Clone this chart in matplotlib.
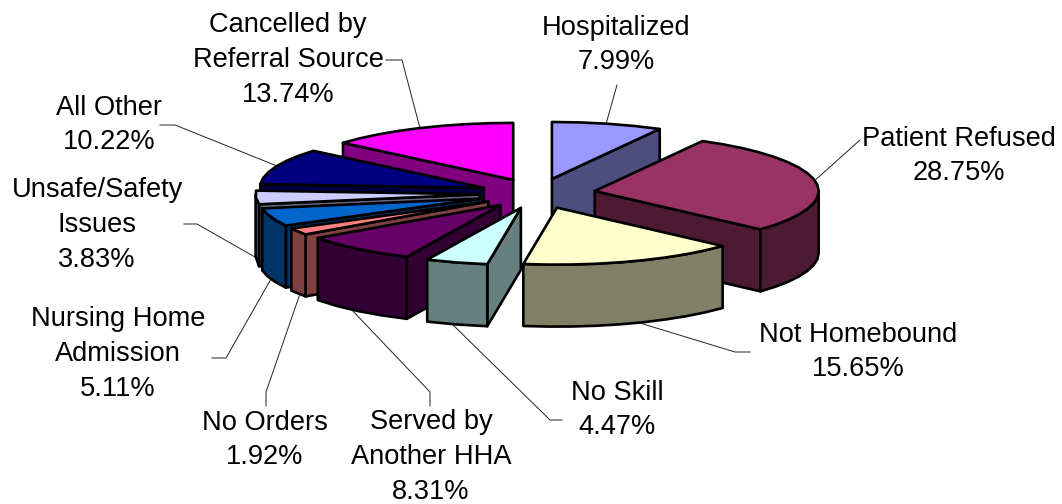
import numpy as np
import matplotlib
matplotlib.use('Agg')
import matplotlib.pyplot as plt

plt.rcParams['font.family'] = ['Liberation Sans', 'DejaVu Sans']

# slices clockwise from 12 o'clock
names = ['Hospitalized', 'Patient Refused', 'Not Homebound', 'No Skill',
         'Served by\nAnother HHA', 'No Orders', 'Nursing Home\nAdmission',
         'Unsafe/Safety\nIssues', 'All Other', 'Cancelled by\nReferral Source']
values = [7.99, 28.75, 15.65, 4.47, 8.31, 1.92, 5.11, 3.83, 10.22, 13.74]
top_colors = ['#9999FF', '#993366', '#FFFFCC', '#CCFFFF', '#660066',
              '#FF8080', '#0066CC', '#CCCCFF', '#000080', '#FF00FF']
side_colors = ['#4D4D80', '#4D1A33', '#808066', '#668080', '#330033',
               '#804040', '#003366', '#666680', '#000040', '#800080']

# label centre and leader line, in pixels
label_pos = [(616, 45), (959, 156), (858, 352), (617, 410), (431, 457),
             (265, 440), (118, 354), (97, 225), (109, 125), (288, 60)]
leaders = [
    [(617, 85), (606, 124)],
    [(860, 140), (812, 183)],
    [(750, 352), (735, 352), (630, 320)],
    [(562, 420), (550, 420), (450, 322)],
    [(430, 406), (430, 392), (350, 308)],
    [(266, 406), (266, 392), (302, 288)],
    [(212, 358), (226, 358), (275, 272)],
    [(184, 224), (197, 224), (262, 261)],
    [(160, 125), (175, 125), (282, 168)],
    [(386, 60), (402, 60), (421, 132)],
]

cx, cy = 537.5, 193.5
rx, ry = 224, 57
ex, ey = 58, 15
depth = 62
lw = 1.9

fig = plt.figure(figsize=(10.62, 5.04), dpi=100)
ax = fig.add_axes([0, 0, 1, 1])
ax.set_xlim(0, 1062)
ax.set_ylim(504, 0)
ax.axis('off')

for path in leaders:
    xs, ys = zip(*path)
    ax.plot(xs, ys, color='#222222', lw=0.7, zorder=1)


def arc(tx, ty, a1, a2):
    n = max(2, int(np.degrees(a2 - a1) / 6) + 1)
    t = np.linspace(a1, a2, n)
    return tx + rx * np.sin(t), ty - ry * np.cos(t)


def side(xs, ys, color, z):
    px = np.concatenate([xs, xs[::-1]])
    py = np.concatenate([ys, ys[::-1] + depth])
    ax.fill(px, py, facecolor=color, edgecolor='black', lw=lw,
            joinstyle='round', zorder=z)


edges = np.cumsum([0] + values) / sum(values) * 2 * np.pi
mids = (edges[:-1] + edges[1:]) / 2
order = np.argsort(-np.cos(mids))

z = 2
for i in order:
    a1, a2 = edges[i], edges[i + 1]
    tx = cx + ex * np.sin(mids[i])
    ty = cy - ey * np.cos(mids[i])
    # cut faces that look toward the viewer
    if np.sin(a1) < -1e-6:
        xe, ye = arc(tx, ty, a1, a1)
        side(np.array([tx, xe[0]]), np.array([ty, ye[0]]), side_colors[i], z)
        z += 1
    if np.sin(a2) > 1e-6:
        xe, ye = arc(tx, ty, a2, a2)
        side(np.array([tx, xe[0]]), np.array([ty, ye[0]]), side_colors[i], z)
        z += 1
    # outer rim, front half only
    lo, hi = max(a1, np.pi / 2), min(a2, 3 * np.pi / 2)
    if hi > lo:
        xs, ys = arc(tx, ty, lo, hi)
        side(xs, ys, side_colors[i], z)
        z += 1
    xs, ys = arc(tx, ty, a1, a2)
    ax.fill(np.r_[tx, xs], np.r_[ty, ys], facecolor=top_colors[i],
            edgecolor='black', lw=lw, joinstyle='round', zorder=z)
    z += 1

for name, v, (lx, ly) in zip(names, values, label_pos):
    ax.text(lx, ly, f'{name}\n{v:.2f}%', ha='center', va='center',
            fontsize=19.6, color='black', linespacing=1.44, zorder=50)

plt.savefig('out.png', dpi=100)
plt.close()
